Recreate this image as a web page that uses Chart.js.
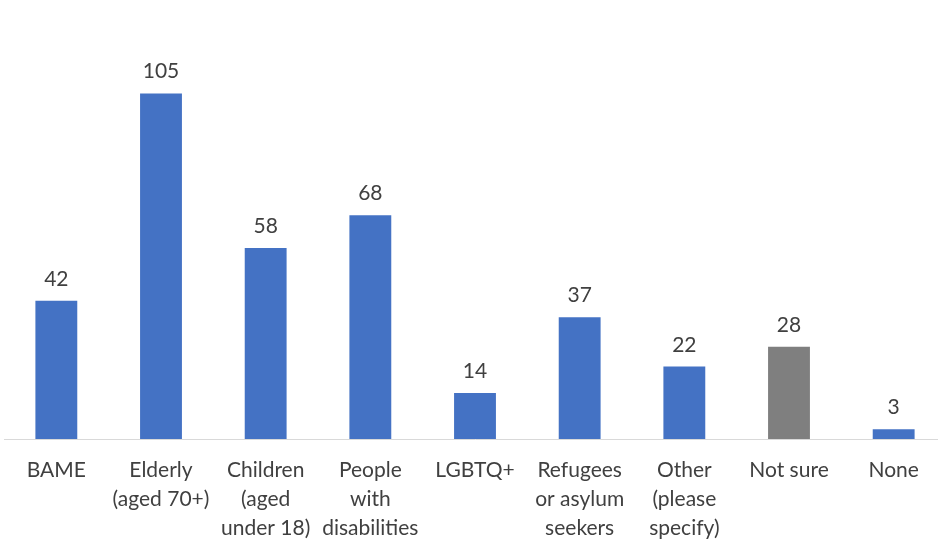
<!DOCTYPE html>
<html>
<head>
<meta charset="utf-8">
<script src="https://cdn.jsdelivr.net/npm/chart.js@4/dist/chart.umd.min.js"></script>
<style>
  html, body { margin: 0; padding: 0; background: #fff; overflow: hidden; }
  #wrap { position: absolute; left: 0; top: 0; width: 946px; height: 542px; }
</style>
</head>
<body>
<div id="wrap"><canvas id="myChart" width="946" height="542"></canvas></div>
<script>
// categories (split into lines like the original axis)
var categories = [
  ["BAME"],
  ["Elderly", "(aged 70+)"],
  ["Children", "(aged", "under 18)"],
  ["People", "with", "disabilities"],
  ["LGBTQ+"],
  ["Refugees", "or asylum", "seekers"],
  ["Other", "(please", "specify)"],
  ["Not sure"],
  ["None"]
];
var counts = [42, 105, 58, 68, 14, 37, 22, 28, 3];

var blue = '#4472C4';
var grey = '#7F7F7F';
var barColors = categories.map(function(c) {
  return c[0] === 'Not sure' ? grey : blue;
});

var fontName = 'Lato, "Open Sans", sans-serif';
var textColor = '#404040';

// write the count above each bar
var valueLabels = {
  id: 'valueLabels',
  afterDatasetsDraw: function(chart) {
    var ctx = chart.ctx;
    var meta = chart.getDatasetMeta(0);
    ctx.save();
    ctx.font = '21px ' + fontName;
    ctx.fillStyle = textColor;
    ctx.textAlign = 'center';
    ctx.textBaseline = 'alphabetic';
    meta.data.forEach(function(bar, i) {
      ctx.fillText(String(counts[i]), bar.x, bar.y - 15);
    });
    ctx.restore();
  }
};

var ctx = document.getElementById('myChart').getContext('2d');
var myChart = new Chart(ctx, {
  type: 'bar',
  data: {
    labels: categories,
    datasets: [{
      data: counts,
      backgroundColor: barColors,
      borderWidth: 0,
      barPercentage: 1,
      categoryPercentage: 0.4
    }]
  },
  options: {
    responsive: false,
    animation: false,
    layout: { padding: { left: 4, right: 0, top: 44, bottom: 0 } },
    plugins: {
      legend: { display: false },
      tooltip: { enabled: false }
    },
    scales: {
      x: {
        grid: { display: false, drawTicks: false },
        border: { display: true, color: '#D9D9D9', width: 1 },
        ticks: {
          color: textColor,
          font: { family: fontName, size: 21, lineHeight: '29px' },
          padding: 17,
          maxRotation: 0,
          autoSkip: false
        },
        afterFit: function(scale) { scale.height = 103; }
      },
      y: {
        display: false,
        min: 0,
        max: 120
      }
    }
  },
  plugins: [valueLabels]
});
</script>
</body>
</html>
